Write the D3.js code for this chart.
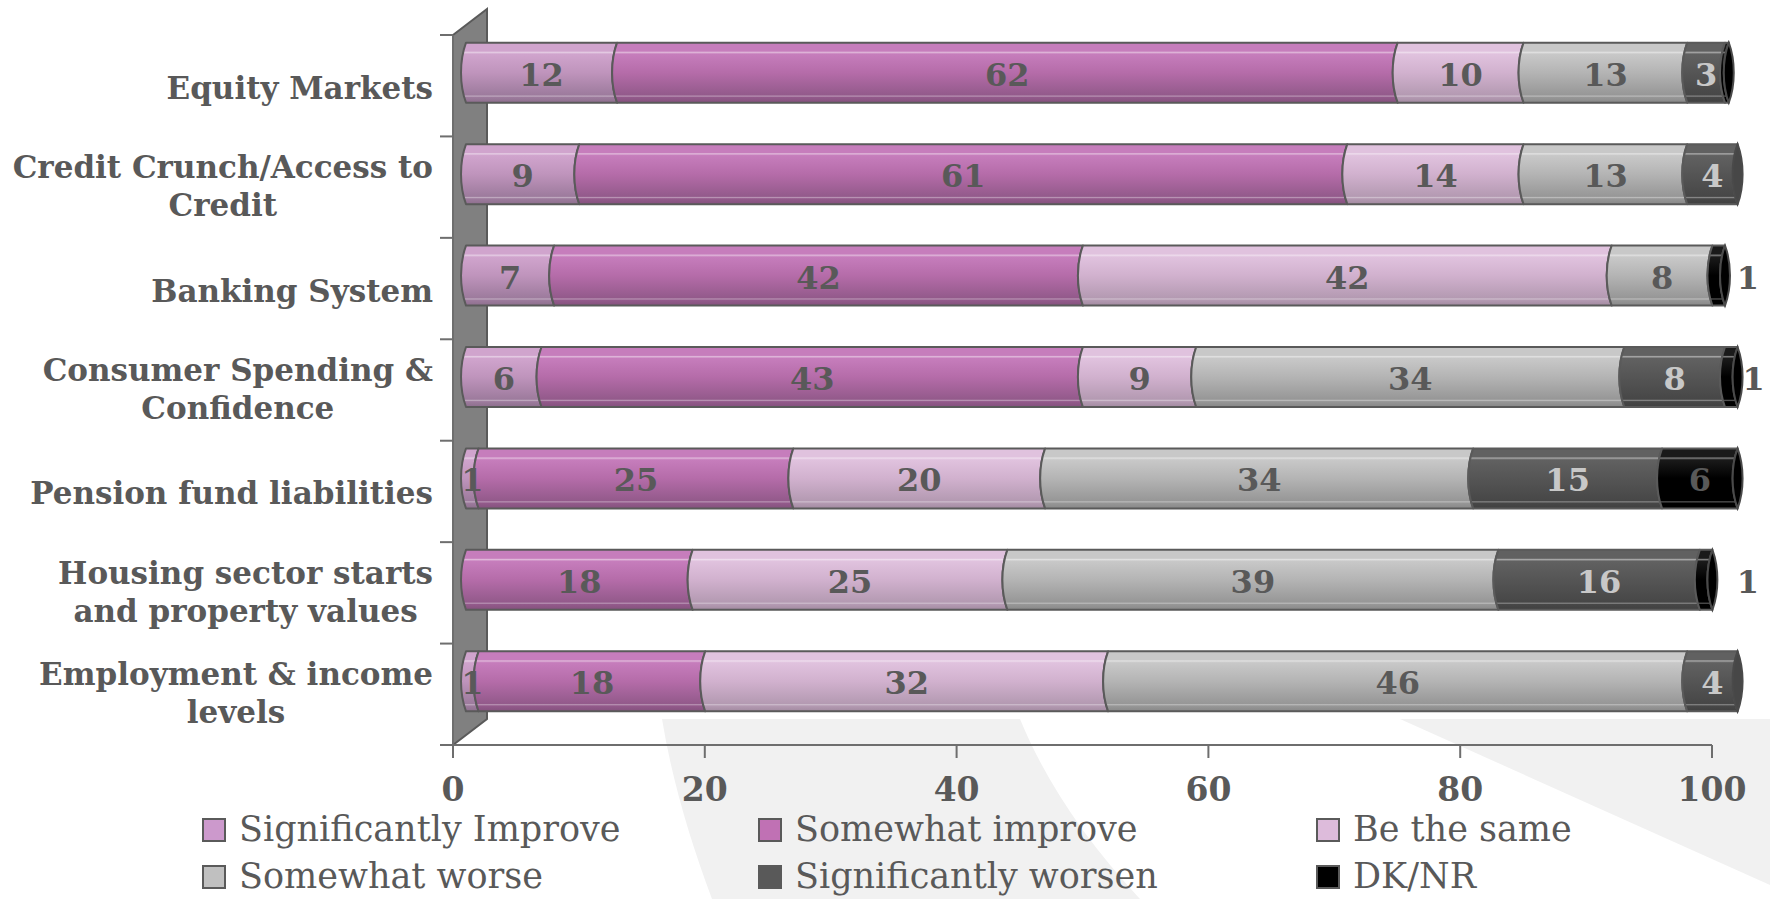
<!DOCTYPE html>
<html><head><meta charset="utf-8">
<script src="https://cdn.jsdelivr.net/npm/d3@7"></script>
<style>html,body{margin:0;padding:0;background:#fff;} svg{display:block;}</style>
</head><body>
<svg id="chart" width="1770" height="899"></svg>
<script>
// ---------------- data ----------------
const categories = [
  "Equity Markets",
  "Credit Crunch/Access to\nCredit",
  "Banking System",
  "Consumer Spending &\nConfidence",
  "Pension fund liabilities",
  "Housing sector starts\nand property values",
  "Employment & income\nlevels"
];
const seriesNames = ["Significantly Improve", "Somewhat improve", "Be the same", "Somewhat worse", "Significantly worsen", "DK/NR"];
const significantlyImprove = [12, 9, 7, 6, 1, 0, 1];
const somewhatImprove      = [62, 61, 42, 43, 25, 18, 18];
const beTheSame            = [10, 14, 42, 9, 20, 25, 32];
const somewhatWorse        = [13, 13, 8, 34, 34, 39, 46];
const significantlyWorsen  = [3, 4, 0, 8, 15, 16, 4];
const dkNr                 = [0.3, 0, 1, 1, 6, 1, 0];
const xTickValues = [0, 20, 40, 60, 80, 100];

// ---------------- styles ----------------
const swatchColors = ["#CC99CC", "#C071B4", "#DDBBDB", "#C0C0C0", "#595959", "#000000"];
const gradStops = [
  ["#d0a4cd", "#bf94bc", "#9d7b9d"],
  ["#c67dbc", "#b56ca9", "#935a8b"],
  ["#e0c2de", "#d1b1ce", "#b49ab2"],
  ["#c8c8c8", "#b4b4b4", "#979797"],
  ["#616161", "#555555", "#474747"],
  ["#1a1a1a", "#000000", "#000000"]
];
const labelColors = ["#595959", "#595959", "#595959", "#595959", "#c8c8c8", "#595959"];
const textColor = "#595959";
const axisColor = "#6e6e6e";

const W = 1770, H = 899;
const X0 = 453, X1 = 1712, Y0 = 35, Y1 = 745;
const depthX = 34, depthY = -26;
const barDx = 13, barDy = -13, barH = 60, bulge = 5;

const svg = d3.select("#chart");
const defs = svg.append("defs");

const x = d3.scaleLinear().domain([0, 100]).range([X0, X1]);
const y = d3.scaleBand().domain(d3.range(categories.length)).range([Y0, Y1]);

// ---------------- background swoosh ----------------
const bg = svg.append("g");
bg.append("path")
  .attr("d", "M662,719 C672,780 690,840 712,899 L1140,899 C1085,840 1045,780 1020,719 Z")
  .attr("fill", "#f1f1f1");
bg.append("path")
  .attr("d", "M1400,719 L1770,719 L1770,885 Z")
  .attr("fill", "#f1f1f1");

// back wall (white, hides background)
svg.append("rect")
  .attr("x", X0 + depthX).attr("y", Y0 + depthY)
  .attr("width", X1 - X0).attr("height", Y1 - Y0)
  .attr("fill", "#ffffff");

// ---------------- side wall ----------------
svg.append("path")
  .attr("d", `M${X0},${Y0} L${X0 + depthX},${Y0 + depthY} L${X0 + depthX},${Y1 + depthY} L${X0},${Y1} Z`)
  .attr("fill", "#808080").attr("stroke", "#5a5a5a").attr("stroke-width", 2);

// ---------------- axes ----------------
const axG = svg.append("g").attr("stroke", axisColor).attr("stroke-width", 2).attr("fill", "none");
axG.append("line").attr("x1", X0).attr("x2", X0).attr("y1", Y0).attr("y2", Y1 + 13);
axG.append("line").attr("x1", X0).attr("x2", X1).attr("y1", Y1).attr("y2", Y1);
const bounds = d3.range(categories.length + 1).map(i => i < categories.length ? y(i) : Y1);
axG.selectAll("line.yt").data(bounds).join("line").attr("class", "yt")
  .attr("x1", X0 - 13).attr("x2", X0).attr("y1", d => d).attr("y2", d => d);
axG.selectAll("line.xt").data(xTickValues).join("line").attr("class", "xt")
  .attr("x1", d => x(d)).attr("x2", d => x(d)).attr("y1", Y1).attr("y2", Y1 + 13);

svg.append("g").selectAll("text").data(xTickValues).join("text")
  .attr("x", d => x(d)).attr("y", Y1 + 56)
  .attr("text-anchor", "middle")
  .attr("font-family", "DejaVu Serif").attr("font-weight", "bold").attr("font-size", 33)
  .attr("fill", textColor).text(d => d);

// ---------------- gradients ----------------
gradStops.forEach((c, i) => {
  const g = defs.append("linearGradient").attr("id", "g" + i)
    .attr("x1", 0).attr("y1", 0).attr("x2", 0).attr("y2", 1);
  const hl = d3.interpolateRgb(c[0], "#ffffff")(0.45);
  const stops = [[0, c[0]], [0.14, c[0]], [0.16, hl], [0.19, c[0]], [0.5, c[1]], [0.87, c[2]], [0.89, d3.interpolateRgb(c[2], "#ffffff")(0.35)], [0.91, c[2]], [1, d3.color(c[2]).darker(0.3)]];
  stops.forEach(s => g.append("stop").attr("offset", s[0]).attr("stop-color", s[1]));
});

// ---------------- bars ----------------
const seriesArrays = [significantlyImprove, somewhatImprove, beTheSame, somewhatWorse, significantlyWorsen, dkNr];
const rows = categories.map((c, i) => {
  const o = { idx: i };
  seriesArrays.forEach((arr, s) => o["s" + s] = arr[i]);
  return o;
});
const stack = d3.stack().keys(seriesArrays.map((_, s) => "s" + s));
const stacked = stack(rows);

function segPath(xa, xb, top, bot) {
  const h = bot - top, k = 1.33 * bulge;
  return `M${xa},${top} L${xb},${top} C${xb - k},${top + h * 0.3} ${xb - k},${bot - h * 0.3} ${xb},${bot} ` +
         `L${xa},${bot} C${xa - k},${bot - h * 0.3} ${xa - k},${top + h * 0.3} ${xa},${top} Z`;
}
function lensPath(xb, top, bot) {
  const h = bot - top, k = 1.33 * bulge;
  return `M${xb},${top} C${xb - k},${top + h * 0.3} ${xb - k},${bot - h * 0.3} ${xb},${bot} ` +
         `C${xb + k},${bot - h * 0.3} ${xb + k},${top + h * 0.3} ${xb},${top} Z`;
}

const barsG = svg.append("g");
const labelsG = svg.append("g");
categories.forEach((c, i) => {
  const cy = y(i) + y.bandwidth() / 2 + barDy;
  const top = cy - barH / 2, bot = cy + barH / 2;
  let last = null;
  const rowEnd = x(stacked[stacked.length - 1][i][1]) + barDx;
  stacked.forEach((ser, s) => {
    const d = ser[i];
    const v = d[1] - d[0];
    if (v <= 0) return;
    const xa = x(d[0]) + barDx, xb = x(d[1]) + barDx;
    barsG.append("path").attr("d", segPath(xa, xb, top, bot))
      .attr("fill", `url(#g${s})`).attr("stroke", "#5a5a5a").attr("stroke-width", 2)
      .attr("stroke-linejoin", "round");
    last = { s, xb };
    const r = Math.round(v);
    if (r === 0) return;
    const outside = s === 5 && v <= 1;
    labelsG.append("text")
      .attr("x", outside ? Math.max(x(100) + barDx + 23, rowEnd + bulge + 11) : (xa + xb) / 2)
      .attr("y", cy + 13)
      .attr("text-anchor", "middle")
      .attr("font-family", "DejaVu Serif").attr("font-weight", "bold").attr("font-size", 32)
      .attr("fill", outside ? textColor : labelColors[s])
      .text(r);
  });
  if (last) {
    barsG.append("path").attr("d", lensPath(last.xb, top, bot))
      .attr("fill", d3.color(gradStops[last.s][1]).darker(0.5))
      .attr("stroke", "#4a4a4a").attr("stroke-width", 2);
  }
});

// ---------------- category labels ----------------
const catG = svg.append("g");
categories.forEach((c, i) => {
  const lines = c.split("\n");
  const cy = y(i) + y.bandwidth() / 2;
  const t = catG.append("text")
    .attr("font-family", "DejaVu Serif").attr("font-weight", "bold").attr("font-size", 31)
    .attr("fill", textColor).attr("text-anchor", "middle");
  const tsp = lines.map((ln, k) => t.append("tspan").text(ln));
  const widths = tsp.map(ts => ts.node().getComputedTextLength());
  const bw = d3.max(widths);
  const cx = X0 - 20 - bw / 2;
  tsp.forEach((ts, k) => {
    const by = lines.length === 1 ? cy + 13 : cy + 10 + (k === 0 ? -19 : 19);
    ts.attr("x", cx).attr("y", by);
  });
});

// ---------------- legend ----------------
const legCols = [203, 759, 1317];
const legRows = [841, 888];
const legG = svg.append("g");
seriesNames.forEach((n, i) => {
  const col = i % 3, row = Math.floor(i / 3);
  const lx = legCols[col], ly = legRows[row];
  legG.append("rect").attr("x", lx).attr("y", ly - 22).attr("width", 22).attr("height", 22)
    .attr("fill", swatchColors[i]).attr("stroke", "#5a5a5a").attr("stroke-width", 2);
  legG.append("text").attr("x", lx + 36).attr("y", ly)
    .attr("font-family", "DejaVu Serif").attr("font-size", 35).attr("fill", textColor).text(n);
});
</script>
</body></html>
